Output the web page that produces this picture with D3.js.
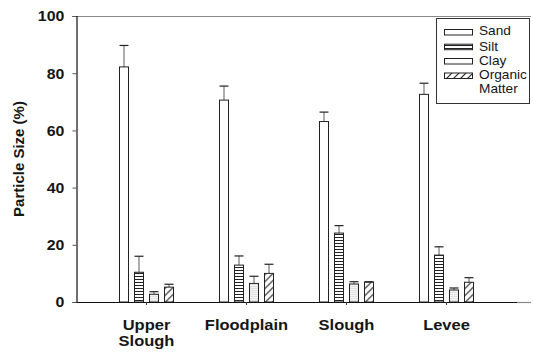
<!DOCTYPE html>
<html><head><meta charset="utf-8">
<script src="https://cdn.jsdelivr.net/npm/d3@7"></script>
<style>
html,body{margin:0;padding:0;background:#fff;}
svg{display:block;}
text{font-family:"Liberation Sans",Arial,sans-serif;fill:#161616;}
</style></head>
<body>
<svg id="chart" width="533" height="354"></svg>
<script>
const categories = ["Upper\nSlough", "Floodplain", "Slough", "Levee"];
const seriesNames = ["Sand", "Silt", "Clay", "Organic\nMatter"];
const sand = [82.2, 70.6, 63.1, 72.6];
const silt = [10.4, 12.9, 24.1, 16.4];
const clay = [2.7, 6.5, 6.3, 4.2];
const organic = [5.2, 10.0, 6.9, 6.9];
const sandErr = [7.5, 4.9, 3.3, 3.9];
const siltErr = [5.6, 3.2, 2.6, 2.9];
const clayErr = [0.9, 2.5, 0.8, 0.7];
const organicErr = [1.0, 3.2, 0.2, 1.6];
const yTicks = [0, 20, 40, 60, 80, 100];

const values = [sand, silt, clay, organic];
const errs = [sandErr, siltErr, clayErr, organicErr];
const fills = ["#fff", "url(#stripe)", "url(#dots)", "url(#hatch)"];
const legendFills = ["#fff", "url(#stripe)", "#fff", "url(#hatch)"];

const svg = d3.select("#chart");
const mLeft = 76.5, mRight = 516.5, mTop = 16, mBottom = 302;

const defs = svg.append("defs");
const st = defs.append("pattern").attr("id","stripe").attr("patternUnits","userSpaceOnUse")
  .attr("width",6).attr("height",3);
st.append("rect").attr("width",6).attr("height",3).attr("fill","#fff");
st.append("line").attr("x1",0).attr("x2",6).attr("y1",0.5).attr("y2",0.5).attr("stroke","#222").attr("stroke-width",1);
const dt = defs.append("pattern").attr("id","dots").attr("patternUnits","userSpaceOnUse")
  .attr("width",2).attr("height",2);
dt.append("rect").attr("width",2).attr("height",2).attr("fill","#f4f4f4");
dt.append("rect").attr("width",1).attr("height",1).attr("fill","#d0d0d0");
const ht = defs.append("pattern").attr("id","hatch").attr("patternUnits","userSpaceOnUse")
  .attr("width",7).attr("height",7);
ht.append("rect").attr("width",7).attr("height",7).attr("fill","#fff");
ht.append("path").attr("d","M-1,8 L8,-1 M-2,2 L2,-2 M5,9 L9,5").attr("stroke","#222").attr("stroke-width",1.1);

const x0 = d3.scaleBand().domain(categories).range([mLeft, mRight]).paddingInner(0).paddingOuter(0.2);
const x1 = d3.scaleBand().domain(d3.range(4)).range([20, 80]).paddingInner(0.4).paddingOuter(0.2);
const y = d3.scaleLinear().domain([0, 100]).range([mBottom, mTop]);

// frame lines
svg.append("line").attr("x1",mLeft).attr("x2",531).attr("y1",mTop+0.5).attr("y2",mTop+0.5).attr("stroke","#888").attr("stroke-width",1.2);
svg.append("line").attr("x1",mRight).attr("x2",531).attr("y1",mBottom+0.5).attr("y2",mBottom+0.5).attr("stroke","#888").attr("stroke-width",1.2);

// bars
categories.forEach((c, ci) => {
  const g = svg.append("g").attr("transform", `translate(${x0(c)},0)`);
  values.forEach((arr, si) => {
    const v = arr[ci], e = errs[si][ci];
    const bx = x1(si), bw = x1.bandwidth();
    g.append("line").attr("x1", bx + bw/2).attr("x2", bx + bw/2)
      .attr("y1", y(v)).attr("y2", y(v + e)).attr("stroke", "#777").attr("stroke-width", 1.2);
    g.append("line").attr("x1", bx).attr("x2", bx + bw)
      .attr("y1", y(v + e)).attr("y2", y(v + e)).attr("stroke", "#222").attr("stroke-width", 1.2);
    g.append("rect").attr("x", bx).attr("y", y(v)).attr("width", bw).attr("height", y(0) - y(v))
      .attr("fill", fills[si]).attr("stroke", "#222").attr("stroke-width", 1);
  });
});

// y axis
const yAxis = svg.append("g").attr("transform", `translate(${mLeft},0)`)
  .call(d3.axisLeft(y).tickValues(yTicks).tickSize(4).tickPadding(8));
yAxis.select(".domain").attr("stroke", "#111").attr("stroke-width", 1.2);
yAxis.selectAll(".tick line").attr("stroke", "#555");
yAxis.selectAll("text").attr("font-size", 15).attr("font-weight", "bold")
  .attr("font-family", '"Liberation Sans",Arial,sans-serif').attr("fill", "#161616")
  .attr("x", -12.2 / 1.06).attr("transform", "scale(1.06,1)");

// x axis
const xAxis = svg.append("g").attr("transform", `translate(0,${mBottom})`)
  .call(d3.axisBottom(x0).tickSize(3).tickSizeOuter(0).tickFormat(""));
xAxis.select(".domain").attr("stroke", "#111").attr("stroke-width", 1.2);
xAxis.selectAll(".tick line").attr("stroke", "#333");
categories.forEach(c => {
  const lines = c.split("\n");
  const cx = x0(c) + x0.bandwidth()/2;
  const t = svg.append("text").attr("transform", `translate(${cx},329.5) scale(1.1,1)`)
    .attr("text-anchor", "middle").attr("font-size", 15).attr("font-weight", "bold");
  lines.forEach((l, i) => t.append("tspan").attr("x", 0).attr("y", i * 17).text(l));
});

// y title
svg.append("text").attr("transform", "translate(19,159) rotate(-90)")
  .attr("text-anchor", "middle").attr("dy", "0.35em")
  .attr("font-size", 15).attr("font-weight", "bold").text("Particle Size (%)");

// legend
const lg = svg.append("g");
lg.append("rect").attr("x", 436.5).attr("y", 18.5).attr("width", 93).attr("height", 85)
  .attr("fill", "#fff").attr("stroke", "#333").attr("stroke-width", 1);
const swY = [32, 46.7, 61, 75.5];
const txY = [[35], [50.5], [65.2], [79.3, 93.3]];
seriesNames.forEach((n, i) => {
  lg.append("rect").attr("x", 444.5).attr("y", swY[i] - 2.5).attr("width", 28).attr("height", 5.5)
    .attr("fill", legendFills[i]).attr("stroke", "#222").attr("stroke-width", 1);
  n.split("\n").forEach((l, j) => lg.append("text")
    .attr("transform", `translate(479,${txY[i][j]}) scale(1.14,1)`)
    .attr("font-size", 12).text(l));
});
</script>
</body></html>
